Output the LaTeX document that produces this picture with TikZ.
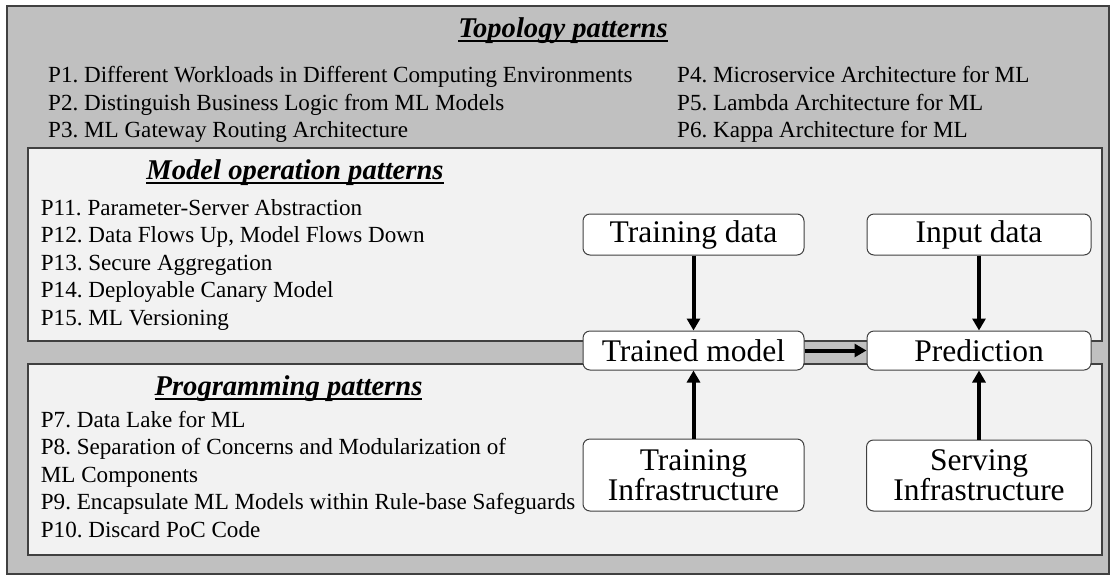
\documentclass[tikz,border=0pt]{standalone}
\usepackage{fontspec}
\setmainfont{Liberation Serif}
\usetikzlibrary{arrows.meta}
\definecolor{outerfill}{RGB}{192,192,192}
\definecolor{innerfill}{RGB}{242,242,242}
\definecolor{edgegray}{RGB}{64,64,64}
\newcommand\myul[1]{\setbox0=\hbox{#1}\rlap{\vrule height -2.8pt depth 4.8pt width \wd0}\box0}
\begin{document}
\frenchspacing
\begin{tikzpicture}[x=1pt,y=-1pt,
  panel/.style={draw=edgegray,line width=1.5pt},
  pat/.style={anchor=base west,inner sep=0pt,font=\fontsize{23.1}{27.5}\selectfont},
  ttl/.style={anchor=base,inner sep=0pt,font=\fontsize{28.6}{32}\selectfont\bfseries\itshape},
  blk/.style={draw=edgegray,fill=white,rounded corners=7pt,line width=1pt,inner sep=0pt,align=center,font=\fontsize{31.5}{26.7}\selectfont},
  arr/.style={line width=4pt,-{Triangle[length=12pt,width=13pt]}}]

\useasboundingbox (0,0) rectangle (1119,582);
\fill[white] (0,0) rectangle (1119,582);
\draw[panel,fill=outerfill] (7,6) rectangle (1109,574);
\draw[panel,fill=innerfill] (28,148) rectangle (1102,341);
\draw[panel,fill=innerfill] (28,364) rectangle (1102,555);

% titles
\node[ttl] (ttopo) at (563,37) {\myul{Topology patterns}};
\node[ttl] (tmop) at (295,179) {\myul{Model operation patterns}};
\node[ttl] (tprog) at (288.5,395) {\myul{Programming patterns}};

% topology patterns
\node[pat] (p1) at (48,82.7) {P1. Different Workloads in Different Computing Environments};
\node[pat] (p2) at (48,110.2) {P2. Distinguish Business Logic from ML Models};
\node[pat] (p3) at (48,137.7) {P3. ML Gateway Routing Architecture};
\node[pat] (p4) at (677,82.7) {P4. Microservice Architecture for ML};
\node[pat] (p5) at (677,110.2) {P5. Lambda Architecture for ML};
\node[pat] (p6) at (677,137.7) {P6. Kappa Architecture for ML};

% model operation patterns
\node[pat] (p11) at (40.7,215) {P11. Parameter-Server Abstraction};
\node[pat] (p12) at (40.7,242.5) {P12. Data Flows Up, Model Flows Down};
\node[pat] (p13) at (40.7,270) {P13. Secure Aggregation};
\node[pat] (p14) at (40.7,297.5) {P14. Deployable Canary Model};
\node[pat] (p15) at (40.7,325) {P15. ML Versioning};

% programming patterns
\node[pat] (p7) at (40.7,427) {P7. Data Lake for ML};
\node[pat] (p8) at (40.7,454.5) {P8. Separation of Concerns and Modularization of};
\node[pat] (p8b) at (40.7,482) {ML Components};
\node[pat] (p9) at (40.7,509.5) {P9. Encapsulate ML Models within Rule-base Safeguards};
\node[pat] (p10) at (40.7,537) {P10. Discard PoC Code};

% flow nodes
\node[blk,minimum width=221pt,minimum height=41pt] (tdata) at (693.5,234.5) {Training data};
\node[blk,minimum width=224pt,minimum height=41pt] (idata) at (979,234.5) {Input data};
\node[blk,minimum width=221pt,minimum height=39pt] (tmodel) at (693.5,350.5) {Trained model};
\node[blk,minimum width=224pt,minimum height=39pt] (pred) at (979,350.5) {Prediction};
\node[blk,minimum width=221pt,minimum height=72pt] (tinfra) at (693.5,475) {Training\\Infrastructure};
\node[blk,minimum width=225pt,minimum height=71pt] (sinfra) at (979,475.5) {Serving\\Infrastructure};

\draw[arr] (tdata) -- (tmodel);
\draw[arr] (idata) -- (pred);
\draw[arr] (tmodel) -- (pred);
\draw[arr] (tinfra) -- (tmodel);
\draw[arr] (sinfra) -- (pred);
\end{tikzpicture}
\end{document}
